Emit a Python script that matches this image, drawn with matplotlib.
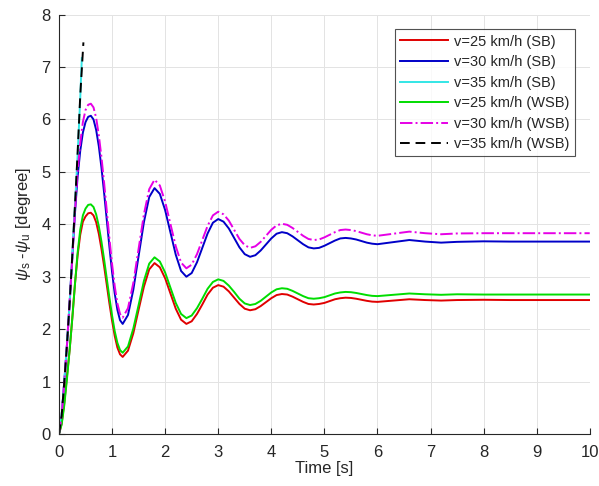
import matplotlib
matplotlib.use("Agg")
import matplotlib.pyplot as plt

# sample times shared by the four damped responses
t = [0.0, 0.05, 0.1, 0.15, 0.2, 0.25, 0.3, 0.35, 0.4, 0.45, 0.5, 0.55, 0.6,
     0.65, 0.7, 0.75, 0.8, 0.85, 0.9, 0.95, 1.0, 1.05, 1.1, 1.15, 1.2,
     1.3, 1.4, 1.5, 1.6, 1.7, 1.8, 1.9, 2.0, 2.1, 2.2, 2.3, 2.4,
     2.5, 2.6, 2.7, 2.8, 2.9, 3.0, 3.1, 3.2, 3.3, 3.4, 3.5, 3.6,
     3.7, 3.8, 3.9, 4.0, 4.1, 4.2, 4.3, 4.4, 4.5, 4.6, 4.7, 4.8,
     4.9, 5.0, 5.1, 5.2, 5.3, 5.4, 5.5, 5.6, 5.7, 5.8, 5.9, 6.0,
     6.3, 6.6, 6.9, 7.2, 7.5, 8.0, 8.5, 9.0, 9.5, 10.0]

v25_sb = [0.0, 0.2, 0.6, 1.1, 1.6, 2.2, 2.85, 3.4, 3.8, 4.05, 4.15, 4.21, 4.22,
          4.17, 4.04, 3.82, 3.53, 3.2, 2.845, 2.49, 2.16, 1.87, 1.65, 1.52, 1.47,
          1.59, 1.92, 2.37, 2.81, 3.14, 3.26, 3.18, 2.97, 2.68, 2.39, 2.18, 2.1,
          2.15, 2.29, 2.47, 2.66, 2.79, 2.84, 2.81, 2.72, 2.6, 2.48, 2.39, 2.36,
          2.38, 2.44, 2.515, 2.59, 2.65, 2.67, 2.66, 2.62, 2.57, 2.52, 2.48, 2.47,
          2.48, 2.5, 2.535, 2.57, 2.59, 2.6, 2.595, 2.58, 2.56, 2.54, 2.525, 2.52,
          2.545, 2.57, 2.555, 2.545, 2.555, 2.56, 2.555, 2.555, 2.555, 2.555]

v30_sb = [0.0, 0.35, 1.0, 1.7, 2.5, 3.35, 4.2, 4.9, 5.4, 5.75, 5.95, 6.05, 6.07,
          6.0, 5.8, 5.49, 5.08, 4.6, 4.085, 3.57, 3.09, 2.68, 2.37, 2.17, 2.1,
          2.27, 2.75, 3.395, 4.04, 4.52, 4.69, 4.58, 4.27, 3.845, 3.42, 3.11, 3.0,
          3.07, 3.275, 3.55, 3.825, 4.03, 4.1, 4.05, 3.92, 3.74, 3.56, 3.43, 3.38,
          3.41, 3.5, 3.615, 3.73, 3.82, 3.85, 3.83, 3.77, 3.695, 3.62, 3.56, 3.54,
          3.55, 3.59, 3.64, 3.69, 3.73, 3.74, 3.73, 3.71, 3.68, 3.65, 3.63, 3.62,
          3.66, 3.7, 3.67, 3.65, 3.665, 3.675, 3.67, 3.67, 3.67, 3.67]

v25_wsb = [0.0, 0.18, 0.55, 1.05, 1.6, 2.2, 2.85, 3.45, 3.9, 4.17, 4.3, 4.37, 4.38,
           4.33, 4.19, 3.965, 3.67, 3.33, 2.965, 2.6, 2.26, 1.96, 1.74, 1.6, 1.55,
           1.67, 2.01, 2.46, 2.92, 3.25, 3.37, 3.29, 3.08, 2.79, 2.5, 2.29, 2.21,
           2.26, 2.4, 2.58, 2.77, 2.9, 2.95, 2.92, 2.83, 2.71, 2.58, 2.49, 2.46,
           2.48, 2.54, 2.62, 2.7, 2.76, 2.78, 2.77, 2.73, 2.68, 2.63, 2.59, 2.58,
           2.59, 2.61, 2.645, 2.68, 2.7, 2.71, 2.705, 2.69, 2.67, 2.65, 2.635, 2.63,
           2.655, 2.68, 2.665, 2.655, 2.665, 2.66, 2.66, 2.66, 2.66, 2.66]

v30_wsb = [0.0, 0.35, 1.0, 1.7, 2.5, 3.35, 4.25, 5.0, 5.55, 5.95, 6.18, 6.28, 6.3,
           6.23, 6.03, 5.7, 5.28, 4.79, 4.26, 3.73, 3.24, 2.82, 2.49, 2.29, 2.22,
           2.4, 2.88, 3.535, 4.19, 4.67, 4.85, 4.74, 4.43, 4.005, 3.58, 3.27, 3.16,
           3.23, 3.43, 3.7, 3.97, 4.17, 4.24, 4.19, 4.07, 3.895, 3.72, 3.6, 3.55,
           3.58, 3.665, 3.78, 3.895, 3.98, 4.01, 3.99, 3.93, 3.855, 3.78, 3.72, 3.7,
           3.71, 3.75, 3.8, 3.85, 3.89, 3.9, 3.89, 3.87, 3.84, 3.81, 3.79, 3.78,
           3.82, 3.86, 3.83, 3.81, 3.825, 3.83, 3.83, 3.83, 3.83, 3.83]

# 35 km/h cases diverge and stop early
t35_sb = [0.0, 0.05, 0.1, 0.15, 0.2, 0.25, 0.3, 0.35, 0.4, 0.43]
v35_sb = [0.0, 0.35, 1.0, 1.7, 2.5, 3.4, 4.35, 5.3, 6.4, 7.17]
t35_wsb = [0.0, 0.05, 0.1, 0.15, 0.2, 0.25, 0.3, 0.35, 0.4, 0.45, 0.46]
v35_wsb = [0.0, 0.35, 1.0, 1.7, 2.5, 3.4, 4.35, 5.35, 6.45, 7.3, 7.47]

plt.rcParams['font.family'] = ['Liberation Sans', 'DejaVu Sans']
plt.rcParams['mathtext.fontset'] = 'custom'
plt.rcParams['mathtext.rm'] = 'Liberation Sans'
plt.rcParams['mathtext.it'] = 'Liberation Sans:italic'

text_col = '#262626'

fig = plt.figure(figsize=(5.99, 4.86), dpi=100)
ax = fig.add_axes([0.0985, 0.107, 0.886, 0.863])

lw = 1.4
ax.plot(t, v25_sb, color='#e00000', lw=lw, label='v=25 km/h (SB)')
ax.plot(t, v30_sb, color='#0000c8', lw=lw, label='v=30 km/h (SB)')
ax.plot(t35_sb, v35_sb, color='#33e6e6', lw=lw, label='v=35 km/h (SB)')
ax.plot(t, v25_wsb, color='#00dd00', lw=lw, label='v=25 km/h (WSB)')
ax.plot(t, v30_wsb, color='#e600e6', lw=lw, ls='-.', label='v=30 km/h (WSB)')
ax.plot(t35_wsb, v35_wsb, color='black', lw=lw, ls=(0, (5, 3)), label='v=35 km/h (WSB)')

ax.set_xlim(0, 10)
ax.set_ylim(0, 8)
ax.set_xticks(range(0, 11))
ax.set_yticks(range(0, 9))
ax.grid(True, color='#e3e3e3', lw=0.7)
ax.set_axisbelow(True)

for side in ('top', 'right'):
    ax.spines[side].set_visible(False)
for side in ('left', 'bottom'):
    ax.spines[side].set_color(text_col)
    ax.spines[side].set_linewidth(0.8)

ax.tick_params(direction='in', length=4, width=0.8, colors=text_col,
               labelsize=12)
ax.tick_params(axis='x', pad=8)
ax.tick_params(axis='y', pad=6)
ax.set_xlabel('Time [s]', fontsize=12, color=text_col, labelpad=1)
ax.set_ylabel(r'$\psi_{\rm s}$ -$\psi_{\rm u}$ [degree]', fontsize=12,
              color=text_col, labelpad=6)

leg = ax.legend(loc='upper right', bbox_to_anchor=(0.98, 0.975), fontsize=10.5,
                frameon=True, fancybox=False, handlelength=3.3,
                handletextpad=0.4, labelspacing=0.45, borderpad=0.35,
                borderaxespad=0.3)
leg.get_frame().set_edgecolor('#262626')
leg.get_frame().set_linewidth(0.8)
for txt in leg.get_texts():
    txt.set_color(text_col)

fig.savefig('out.png', dpi=100)
